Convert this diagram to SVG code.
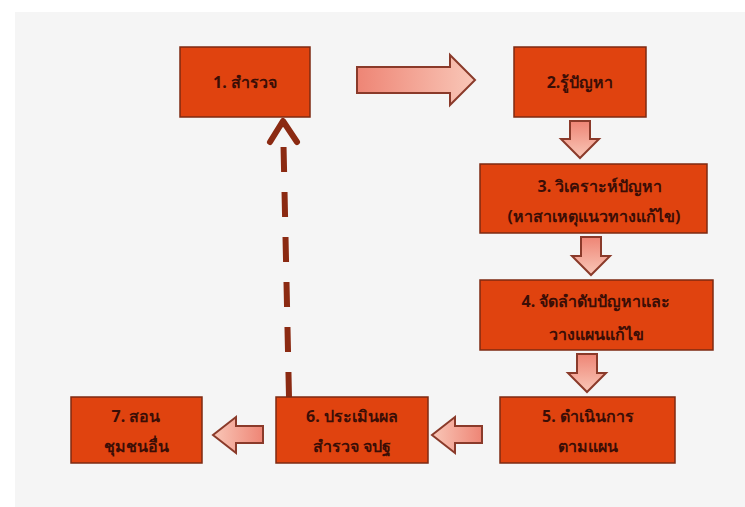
<svg xmlns="http://www.w3.org/2000/svg" width="745" height="507" viewBox="0 0 745 507">
<defs>
<linearGradient id="gh" x1="0" y1="0" x2="1" y2="0"><stop offset="0" stop-color="#EE8575"/><stop offset="1" stop-color="#F9C7B8"/></linearGradient>
<linearGradient id="gl" x1="1" y1="0" x2="0" y2="0"><stop offset="0" stop-color="#EE8575"/><stop offset="1" stop-color="#F9C7B8"/></linearGradient>
<linearGradient id="gv" x1="0" y1="0" x2="0" y2="1"><stop offset="0" stop-color="#EE8575"/><stop offset="1" stop-color="#F9C7B8"/></linearGradient>
<style>
.box{fill:#E0430F;stroke:#7E2A12;stroke-width:1.5}
.t{font-family:"Noto Sans","DejaVu Sans",sans-serif;font-size:16px;font-weight:bold;fill:#3B0E06;text-anchor:middle}
.arr{stroke:#8A3A2A;stroke-width:2;stroke-linejoin:miter}
.dash{fill:none;stroke:#8B2A12;stroke-width:6;stroke-dasharray:25 20}
.chev{fill:none;stroke:#8B2A12;stroke-width:6;stroke-linecap:round;stroke-linejoin:round}
</style>
</defs>
<rect x="0" y="0" width="745" height="507" fill="#FFFFFF"/>
<rect x="15" y="12" width="730" height="495" fill="#F5F5F5"/>

<g id="connectors">
<path class="arr" fill="url(#gh)" d="M357,67 H450 V55 L475,80 L450,105 V93 H357 Z"/>
<path class="arr" fill="url(#gv)" d="M570,121 H590 V139 H599 L580,158 L561,139 H570 Z"/>
<path class="arr" fill="url(#gv)" d="M581,237 H601 V256 H610 L591,275 L572,256 H581 Z"/>
<path class="arr" fill="url(#gv)" d="M577,354 H597 V373 H606 L587,392 L568,373 H577 Z"/>
<path class="arr" fill="url(#gl)" d="M482,426 H455 V417 L432,435 L455,453 V443 H482 Z"/>
<path class="arr" fill="url(#gl)" d="M263,426 H236 V417 L213,435 L236,453 V443 H263 Z"/>
<path class="dash" d="M289,397 L283,122"/>
<polyline class="chev" points="270,142 283,121 297,142"/>
</g>

<g id="n1"><rect class="box" x="180" y="47" width="130" height="70"/><text class="t" x="245" y="88">1. สำรวจ</text></g>
<g id="n2"><rect class="box" x="514" y="47" width="132" height="70"/><text class="t" x="580" y="88">2.รู้ปัญหา</text></g>
<g id="n3"><rect class="box" x="480" y="164" width="227" height="69"/><text class="t" x="600" y="192">3. วิเคราะห์ปัญหา</text><text class="t" x="594" y="222">(หาสาเหตุแนวทางแก้ไข)</text></g>
<g id="n4"><rect class="box" x="480" y="280" width="233" height="70"/><text class="t" x="596" y="307">4. จัดลำดับปัญหาและ</text><text class="t" x="596" y="340">วางแผนแก้ไข</text></g>
<g id="n5"><rect class="box" x="500" y="397" width="175" height="66"/><text class="t" x="588" y="422">5. ดำเนินการ</text><text class="t" x="588" y="452">ตามแผน</text></g>
<g id="n6"><rect class="box" x="276" y="397" width="152" height="66"/><text class="t" x="352" y="422">6. ประเมินผล</text><text class="t" x="352" y="452">สำรวจ จปฐ</text></g>
<g id="n7"><rect class="box" x="71" y="397" width="131" height="66"/><text class="t" x="136" y="422">7. สอน</text><text class="t" x="136" y="452">ชุมชนอื่น</text></g>
</svg>
